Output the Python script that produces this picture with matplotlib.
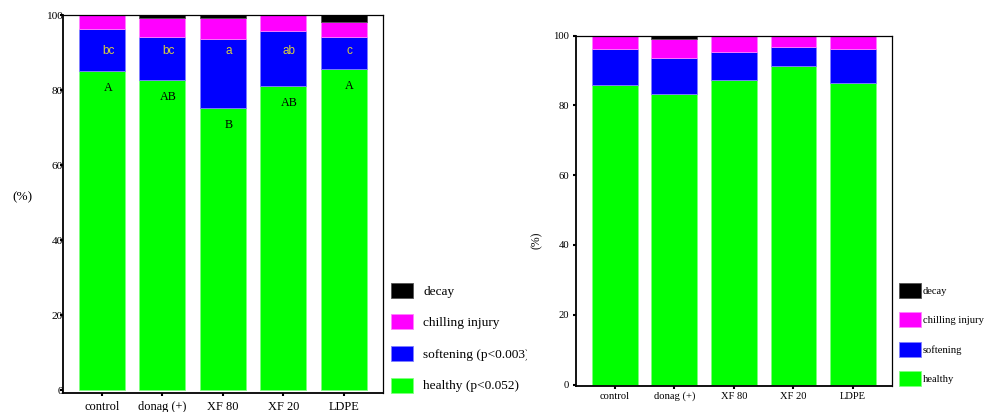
import numpy as np
import matplotlib
matplotlib.use("Agg")
import matplotlib.pyplot as plt

# --- data ---
treatments = ['control', 'donag (+)', 'XF 80', 'XF 20', 'LDPE']

# left panel (%)
healthy_l = [85.0, 82.8, 75.3, 81.0, 85.6]
softening_l = [11.3, 11.4, 18.5, 14.9, 8.6]
chilling_l = [3.7, 5.0, 5.4, 4.1, 4.0]
decay_l = [0.0, 0.8, 0.8, 0.0, 1.8]
upper_letters = ['A', 'AB', 'B', 'AB', 'A']
lower_letters = ['bc', 'bc', 'a', 'ab', 'c']

# right panel (%)
healthy_r = [86.0, 83.3, 87.3, 91.3, 86.5]
softening_r = [10.2, 10.2, 8.1, 5.5, 9.7]
chilling_r = [3.8, 5.6, 4.6, 3.2, 3.8]
decay_r = [0.0, 0.9, 0.0, 0.0, 0.0]

labels_l = ['healthy (p<0.052)', 'softening (p<0.003)', 'chilling injury', 'decay']
labels_r = ['healthy', 'softening', 'chilling injury', 'decay']

colors = ['#00ff00', '#0000ff', '#ff00ff', '#000000']
edges = ['#80ff80', '#8080ff', '#ff80ff', '#555555']

serif = ['Liberation Serif', 'DejaVu Serif']
plt.rcParams['font.family'] = serif


def stacked(ax, series, width):
    x = np.arange(len(treatments))
    bottom = np.zeros(len(treatments))
    handles = []
    for vals, c, e in zip(series, colors, edges):
        b = ax.bar(x, vals, width, bottom=bottom, color=c, edgecolor=e, linewidth=0.6)
        handles.append(b)
        bottom += np.array(vals)
    return handles


def style(ax, tick_fs, xtick_fs, ypad, xpad):
    ax.set_xticks(np.arange(len(treatments)))
    ax.set_xticklabels(treatments, fontsize=xtick_fs)
    ax.set_yticks([0, 20, 40, 60, 80, 100])
    ax.tick_params(axis='y', length=2.5, width=1.5, pad=ypad, labelsize=tick_fs)
    ax.tick_params(axis='x', length=2.5, width=1.5, pad=xpad)
    for s in ['left', 'bottom']:
        ax.spines[s].set_linewidth(1.3)
    for s in ['top', 'right']:
        ax.spines[s].set_linewidth(0.9)


fig = plt.figure(figsize=(9.86, 4.12), dpi=100)

# --- left panel ---
ax1 = fig.add_axes([0.0639, 0.0461, 0.3245, 0.9168])
h1 = stacked(ax1, [healthy_l, softening_l, chilling_l, decay_l], 0.76)
ax1.set_xlim(-0.645, 4.65)
ax1.set_ylim(-0.8, 100)
style(ax1, 8.2, 8.9, -2.5, 3.5)

for i in range(len(treatments)):
    ax1.text(i + 0.1, healthy_l[i] - 4.5, upper_letters[i], ha='center', va='center',
             fontsize=8.7, color='black')
    ax1.text(i + 0.1, 90.6, lower_letters[i], ha='center', va='center',
             fontsize=8.5, color='#d8d040', family=['Liberation Sans', 'DejaVu Sans'])

fig.text(22 / 986, 1 - 197 / 412, '(%)', ha='center', va='center', fontsize=9.5)

leg1 = fig.legend(h1[::-1], labels_l[::-1], loc='upper left',
                  bbox_to_anchor=(384 / 986, 1 - 276 / 412), frameon=False,
                  fontsize=9.6, handlelength=1.65, handleheight=1.35,
                  handletextpad=0.8, labelspacing=1.25, borderpad=0)
# right edge of the left legend is cut off in the original
clip = matplotlib.patches.Rectangle((0, 0), 527, 412, transform=None)
for t in leg1.get_texts():
    t.set_clip_path(clip)

# --- right panel ---
ax2 = fig.add_axes([0.5842, 0.0624, 0.3205, 0.851])
h2 = stacked(ax2, [healthy_r, softening_r, chilling_r, decay_r], 0.767)
ax2.set_xlim(-0.651, 4.658)
ax2.set_ylim(-0.5, 100)
style(ax2, 7.7, 7.6, 2.5, 1.5)

fig.text(537 / 986, 1 - 240 / 412, '(%)', ha='center', va='center', fontsize=8.5,
         rotation=90)

fig.legend(h2[::-1], labels_r[::-1], loc='upper left',
           bbox_to_anchor=(894 / 986, 1 - 278 / 412), frameon=False,
           fontsize=7.6, handlelength=2.1, handleheight=1.8,
           handletextpad=0.15, labelspacing=1.35, borderpad=0)

fig.savefig('out.png', dpi=100)
